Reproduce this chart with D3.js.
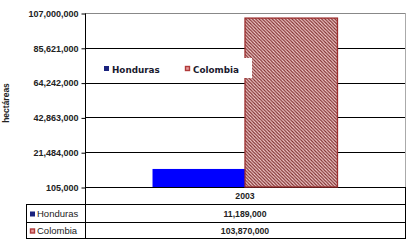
<!DOCTYPE html>
<html><head><meta charset="utf-8">
<script src="https://cdn.jsdelivr.net/npm/d3@7"></script>
<style>body{margin:0;background:#fff}svg{display:block}</style>
</head><body>
<svg id="c" width="411" height="244"></svg>
<script>
const categories = ["2003"];
const seriesNames = ["Honduras", "Colombia"];
const honduras = [11189000];
const colombia = [103870000];
const tickValues = [105000, 21484000, 42863000, 64242000, 85621000, 107000000];
const yLabel = "hectáreas";

const svg = d3.select("#c");
const L = 85, R = 405, T = 13, B = 187;
const tableRows = [187, 204, 222, 238];
const tableLeft = 26;

const y = d3.scaleLinear().domain([105000, 107000000]).range([B, T]);
const x0 = d3.scaleBand().domain(categories).range([L, R]);
const x1 = d3.scaleBand().domain(seriesNames).range([0, x0.bandwidth()]).paddingInner(0).paddingOuter(0.73);

const defs = svg.append("defs");
const pat = defs.append("pattern").attr("id", "hatch").attr("patternUnits", "userSpaceOnUse")
  .attr("width", 3.3).attr("height", 3.3);
pat.append("rect").attr("width", 3.3).attr("height", 3.3).attr("fill", "#f6d2d2");
pat.append("path").attr("d", "M-1,-1 L4.3,4.3 M-1,2.3 L1,4.3 M2.3,-1 L4.3,1").attr("stroke", "#7e2c2c").attr("stroke-width", 1.2);

// gridlines
svg.append("g").selectAll("line").data(tickValues).join("line")
  .attr("x1", L).attr("x2", R)
  .attr("y1", d => Math.round(y(d)) + 0.5).attr("y2", d => Math.round(y(d)) + 0.5)
  .attr("stroke", (d, i) => i === tickValues.length - 1 ? "#888" : "#000").attr("stroke-width", 1);
svg.append("line").attr("x1", R + 0.5).attr("x2", R + 0.5).attr("y1", T).attr("y2", B).attr("stroke", "#aaa");

// y axis
const yAxis = d3.axisLeft(y).tickValues(tickValues).tickSize(4).tickPadding(3).tickFormat(d3.format(","));
const ga = svg.append("g").attr("transform", `translate(${L + 0.5},0.5)`).call(yAxis);
ga.select(".domain").attr("stroke", "#000").attr("d", `M0,${T}V${tableRows[3]}`);
ga.selectAll(".tick line").attr("stroke", "#000");
ga.selectAll(".tick text").attr("font-family", "Liberation Sans, Arial, sans-serif")
  .attr("font-weight", "bold").attr("font-size", "9px").attr("fill", "#222");

// bars
const data = categories.map((c, i) => ({cat: c, vals: [{s: "Honduras", v: honduras[i]}, {s: "Colombia", v: colombia[i]}]}));
const g = svg.append("g").selectAll("g").data(data).join("g").attr("transform", d => `translate(${x0(d.cat)},0)`);
g.selectAll("rect").data(d => d.vals).join("rect")
  .attr("x", d => x1(d.s)).attr("width", x1.bandwidth())
  .attr("y", d => y(d.v)).attr("height", d => B - y(d.v))
  .attr("fill", d => d.s === "Honduras" ? "#0000ff" : "url(#hatch)")
  .attr("stroke", d => d.s === "Honduras" ? "none" : "#9b2d2d")
  .attr("stroke-width", 1.3);

// legend
const lg = svg.append("g");
lg.append("rect").attr("x", 100).attr("y", 58).attr("width", 152).attr("height", 20).attr("fill", "#fff");
lg.append("rect").attr("x", 104).attr("y", 66).attr("width", 5).attr("height", 5).attr("fill", "#1a237e");
lg.append("text").attr("x", 112).attr("y", 72.5).text(seriesNames[0]);
lg.append("rect").attr("x", 185.5).attr("y", 66.5).attr("width", 4).attr("height", 4).attr("fill", "#e89a9a").attr("stroke", "#b03a3a").attr("stroke-width", 1.4);
lg.append("text").attr("x", 193).attr("y", 72.5).text(seriesNames[1]);
lg.selectAll("text").attr("font-family", "DejaVu Sans, Verdana, sans-serif").attr("font-weight", "bold")
  .attr("font-size", "8.8px").attr("fill", "#1a1a2e");

// y label
svg.append("text").attr("transform", "translate(9,103) rotate(-90)").attr("text-anchor", "middle")
  .attr("font-family", "Liberation Sans, Arial, sans-serif").attr("font-weight", "bold").attr("font-size", "8.5px")
  .attr("fill", "#222").text(yLabel);

// data table
const tg = svg.append("g").attr("stroke", "#000").attr("stroke-width", 1);
tableRows.slice(1).forEach(r => tg.append("line").attr("x1", tableLeft).attr("x2", R).attr("y1", r + 0.5).attr("y2", r + 0.5));
tg.append("line").attr("x1", tableLeft + 0.5).attr("x2", tableLeft + 0.5).attr("y1", tableRows[1]).attr("y2", tableRows[3] + 1);
tg.append("line").attr("x1", R + 0.5).attr("x2", R + 0.5).attr("y1", tableRows[0]).attr("y2", tableRows[3] + 1);

const tfont = sel => sel.attr("font-family", "Liberation Sans, Arial, sans-serif").attr("font-weight", "bold")
  .attr("font-size", "8.7px").attr("fill", "#222");
categories.forEach(c => {
  const cx = x0(c) + x0.bandwidth() / 2;
  svg.append("text").attr("x", cx).attr("y", (tableRows[0] + tableRows[1]) / 2 + 3.5).attr("text-anchor", "middle").text(c).call(tfont);
});
const rowVals = [honduras, colombia];
const fmt = d3.format(",");
seriesNames.forEach((s, i) => {
  const cy = (tableRows[i + 1] + tableRows[i + 2]) / 2 + 1;
  categories.forEach((c, j) => {
    svg.append("text").attr("x", x0(c) + x0.bandwidth() / 2).attr("y", cy + 3).attr("text-anchor", "middle")
      .text(fmt(rowVals[i][j])).call(tfont);
  });
  if (i === 0) svg.append("rect").attr("x", 30).attr("y", cy - 2.5).attr("width", 5).attr("height", 5).attr("fill", "#1a237e");
  else svg.append("rect").attr("x", 30.5).attr("y", cy - 2).attr("width", 4).attr("height", 4).attr("fill", "#e89a9a").attr("stroke", "#b03a3a").attr("stroke-width", 1.4);
  svg.append("text").attr("x", 37).attr("y", cy + 3.3).text(s).call(tfont).attr("font-weight", "normal").attr("font-size", "9.5px");
});
</script>
</body></html>
